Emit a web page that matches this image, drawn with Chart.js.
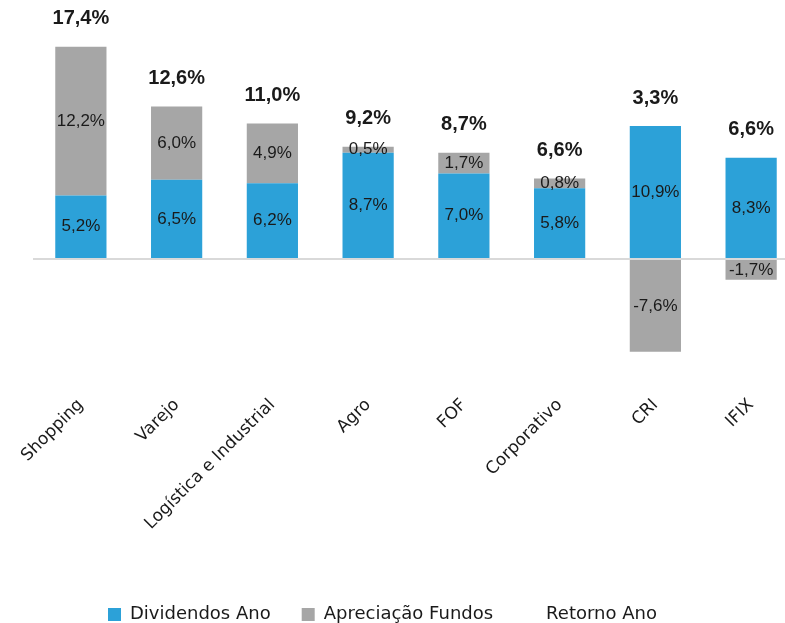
<!DOCTYPE html>
<html>
<head>
<meta charset="utf-8">
<script src="https://cdn.jsdelivr.net/npm/chart.js@4.4.1/dist/chart.umd.min.js"></script>
<style>
  html, body { margin: 0; padding: 0; background: #fff; overflow: hidden; }
  /* a última coluna encosta na borda direita, por isso o canvas passa um pouco da janela */
  #wrap { width: 799px; height: 623px; position: relative; }
</style>
</head>
<body>
<div id="wrap"><canvas id="grafico"></canvas></div>
<script>
// Retorno dos FIIs por segmento (% no ano)
const categorias = ['Shopping', 'Varejo', 'Logística e Industrial', 'Agro', 'FOF', 'Corporativo', 'CRI', 'IFIX'];
const dividendos = [5.2, 6.5, 6.2, 8.7, 7.0, 5.8, 10.9, 8.3];
const apreciacao = [12.2, 6.0, 4.9, 0.5, 1.7, 0.8, -7.6, -1.7];
const retorno = [17.4, 12.6, 11.0, 9.2, 8.7, 6.6, 3.3, 6.6];

const AZUL = '#2ca1d8';
const CINZA = '#a6a6a6';
const TEXTO = '#1a1a1a';

function fmt(v) {
    return v.toFixed(1).replace('.', ',') + '%';
}

// escreve os valores dentro das barras e o total acima de cada coluna
const rotulos = {
    id: 'rotulos',
    afterDatasetsDraw(chart) {
        const ctx = chart.ctx;
        const mDiv = chart.getDatasetMeta(0);
        const mApr = chart.getDatasetMeta(1);
        ctx.save();
        ctx.textAlign = 'center';
        ctx.textBaseline = 'middle';
        ctx.fillStyle = TEXTO;
        ctx.font = '17px "Liberation Sans", Arial, sans-serif';
        [mDiv, mApr].forEach(function (meta, d) {
            const vals = d === 0 ? dividendos : apreciacao;
            meta.data.forEach(function (bar, i) {
                ctx.fillText(fmt(vals[i]), bar.x, (bar.y + bar.base) / 2);
            });
        });
        ctx.font = 'bold 20px "Liberation Sans", Arial, sans-serif';
        mDiv.data.forEach(function (bar, i) {
            let topo = bar.y;
            if (apreciacao[i] > 0) topo = Math.min(topo, mApr.data[i].y);
            ctx.fillText(fmt(retorno[i]), bar.x, topo - 28);
        });
        ctx.restore();
    }
};

// posiciona a legenda no rodapé
const legendaPos = {
    id: 'legendaPos',
    afterLayout(chart) {
        const lg = chart.legend;
        lg.left = 77;
        lg.top = 574.5;
    }
};

new Chart(document.getElementById('grafico'), {
    type: 'bar',
    data: {
        labels: categorias,
        datasets: [
            {
                label: 'Dividendos Ano',
                data: dividendos,
                backgroundColor: AZUL,
                borderWidth: 0,
                stack: 'fii',
                categoryPercentage: 1,
                barPercentage: 0.535
            },
            {
                label: 'Apreciação Fundos',
                data: apreciacao,
                backgroundColor: CINZA,
                borderWidth: 0,
                stack: 'fii',
                categoryPercentage: 1,
                barPercentage: 0.535
            },
            {
                type: 'line',
                label: 'Retorno Ano',
                data: retorno,
                stack: 'total',
                showLine: false,
                pointRadius: 0,
                borderWidth: 0,
                borderColor: 'rgba(0,0,0,0)',
                backgroundColor: 'rgba(0,0,0,0)'
            }
        ]
    },
    options: {
        responsive: true,
        maintainAspectRatio: false,
        animation: false,
        devicePixelRatio: 1,
        layout: { padding: { top: 15, left: 33, right: 0, bottom: 0 } },
        plugins: {
            tooltip: { enabled: false },
            legend: {
                position: 'bottom',
                align: 'start',
                labels: {
                    boxWidth: 13,
                    boxHeight: 13,
                    padding: 31,
                    color: TEXTO,
                    font: { family: '"DejaVu Sans", sans-serif', size: 18 }
                }
            }
        },
        scales: {
            x: {
                stacked: true,
                grid: { display: false, drawTicks: false },
                border: { display: false },
                ticks: {
                    minRotation: 45,
                    maxRotation: 45,
                    autoSkip: false,
                    padding: 14,
                    color: TEXTO,
                    font: { family: '"DejaVu Sans", sans-serif', size: 17 }
                },
                afterFit(scale) { scale.height = 183; }
            },
            y: {
                stacked: true,
                min: -10,
                max: 20,
                ticks: { display: false, stepSize: 5 },
                border: { display: false },
                grid: {
                    drawTicks: false,
                    lineWidth: 2,
                    color: c => c.tick.value === 0 ? '#d9d9d9' : 'rgba(0,0,0,0)'
                }
            }
        }
    },
    plugins: [rotulos, legendaPos]
});
</script>
</body>
</html>
